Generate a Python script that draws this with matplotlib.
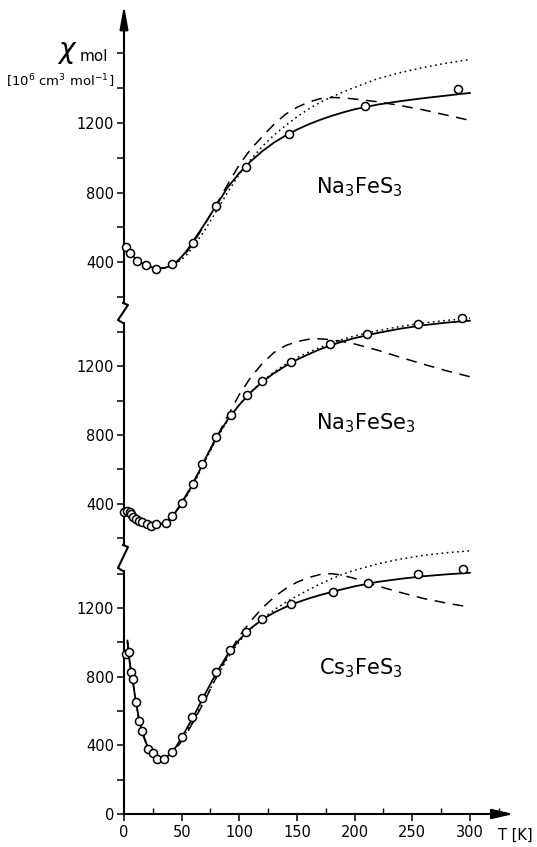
import numpy as np
import matplotlib.pyplot as plt
from matplotlib.ticker import FixedLocator
from matplotlib.lines import Line2D

# --- data (chi_mol in 10^-6 cm3/mol, T in K) ---
T_grid = [1, 5, 10, 15, 20, 25, 30, 35, 40, 45, 50, 55, 60, 70, 80, 90, 100, 110, 120,
          130, 140, 150, 160, 170, 180, 190, 200, 220, 240, 260, 280, 300]

# Na3FeS3
na_s_T = [2, 5, 11, 19, 28, 42, 60, 80, 106, 143, 209, 290]
na_s_chi = [486, 452, 406, 383, 360, 388, 509, 722, 947, 1137, 1298, 1396]
na_s_solid = [488, 455, 420, 395, 378, 368, 363, 366, 377, 398, 430, 470, 520, 620, 725,
              830, 912, 980, 1038, 1087, 1127, 1162, 1192, 1218, 1241, 1261, 1279, 1306,
              1326, 1343, 1358, 1373]
na_s_dash = [488, 455, 420, 395, 378, 368, 363, 366, 376, 395, 424, 462, 508, 615, 730,
             847, 960, 1050, 1122, 1192, 1250, 1290, 1320, 1340, 1347, 1345, 1338, 1322,
             1300, 1275, 1245, 1215]
na_s_dot = [488, 455, 420, 395, 378, 368, 363, 366, 375, 392, 414, 447, 487, 582, 692,
            802, 905, 990, 1065, 1130, 1185, 1235, 1280, 1318, 1350, 1378, 1405, 1455,
            1490, 1520, 1545, 1565]

# Na3FeSe3
na_se_T = [0, 3, 5, 6, 8, 10, 13, 16, 20, 23, 28, 36, 42, 50, 60, 68, 80, 93, 107, 120,
           145, 179, 211, 255, 293]
na_se_chi = [354, 359, 354, 342, 325, 313, 301, 296, 284, 272, 284, 292, 330, 406, 516,
             632, 788, 916, 1032, 1113, 1223, 1328, 1386, 1443, 1478]
na_se_solid = [356, 345, 315, 298, 285, 278, 280, 292, 315, 355, 405, 460, 518, 655, 785,
               890, 975, 1048, 1108, 1158, 1200, 1237, 1268, 1297, 1322, 1343, 1362, 1392,
               1417, 1437, 1452, 1463]
na_se_dash = [356, 345, 315, 298, 285, 278, 280, 292, 315, 356, 408, 465, 525, 650, 780,
              910, 1035, 1135, 1215, 1278, 1318, 1342, 1355, 1358, 1352, 1342, 1328, 1292,
              1250, 1210, 1172, 1138]
na_se_dot = [356, 345, 315, 298, 285, 278, 280, 292, 314, 352, 400, 453, 510, 645, 775,
             885, 975, 1050, 1112, 1165, 1210, 1248, 1280, 1308, 1333, 1355, 1375, 1405,
             1430, 1450, 1465, 1477]

# Cs3FeS3
cs_grid = [3, 5, 8, 10, 13, 16, 20, 25, 30, 35, 40, 45, 50, 55, 60, 70, 80, 90, 100, 110,
           120, 130, 140, 150, 160, 170, 180, 190, 200, 220, 240, 260, 280, 300]
cs_T = [2, 4, 6, 8, 10, 13, 16, 21, 25, 29, 35, 42, 50, 59, 68, 80, 92, 106, 120, 145,
        181, 212, 255, 294]
cs_chi = [930, 945, 827, 786, 652, 542, 483, 379, 355, 320, 320, 361, 449, 565, 676, 827,
          955, 1060, 1136, 1223, 1293, 1346, 1398, 1427]
cs_solid = [1010, 880, 760, 665, 555, 475, 400, 350, 325, 325, 348, 390, 445, 505, 565,
            695, 820, 930, 1015, 1082, 1133, 1173, 1205, 1232, 1255, 1275, 1293, 1310,
            1326, 1352, 1370, 1385, 1396, 1405]
cs_dash = [1000, 880, 755, 660, 548, 468, 395, 348, 327, 330, 345, 378, 425, 478, 535,
           660, 795, 925, 1035, 1125, 1200, 1262, 1312, 1350, 1377, 1395, 1400, 1390,
           1372, 1328, 1290, 1255, 1228, 1205]
cs_dot = [1000, 875, 755, 660, 550, 470, 397, 350, 328, 330, 345, 382, 432, 488, 545,
          668, 795, 910, 1005, 1078, 1138, 1188, 1232, 1270, 1305, 1340, 1370, 1397, 1420,
          1457, 1485, 1507, 1522, 1533]

W, H = 537, 847
fig = plt.figure(figsize=(W / 100, H / 100), dpi=100)
plt.rcParams['font.family'] = ['DejaVu Sans']


def fx(x):
    return x / W


def fy(y):
    return 1 - y / H


def make_panel(top, bottom, ylim, spine, major, minor):
    ax = fig.add_axes([fx(124), fy(bottom), (516 - 124) / W, (bottom - top) / H])
    ax.set_facecolor('none')
    ax.set_xlim(0, 340)
    ax.set_ylim(*ylim)
    for s in ['top', 'right', 'bottom']:
        ax.spines[s].set_visible(False)
    ax.spines['left'].set_bounds(*spine)
    ax.spines['left'].set_linewidth(1.5)
    ax.yaxis.set_major_locator(FixedLocator(major))
    ax.yaxis.set_minor_locator(FixedLocator(minor))
    ax.tick_params(axis='y', which='both', direction='out', length=5, width=1.1,
                   labelsize=10.5, pad=2)
    ax.set_xticks([])
    return ax


def draw(ax, T, solid, dash, dot, Tp, chip):
    ax.plot(T, solid, color='k', lw=1.3)
    ax.plot(T, dash, color='k', lw=1.1, dashes=(7, 5))
    ax.plot(T, dot, color='k', lw=1.1, dashes=(1.1, 2.3))
    ax.plot(Tp, chip, 'o', mfc='white', mec='k', ms=5.8, mew=1.1, zorder=5, clip_on=False)


ax1 = make_panel(5, 310, (124, 1879), (164, 1800), [400, 800, 1200], [200, 600, 1000, 1400, 1600])
ax2 = make_panel(300, 550, (133, 1583), (162, 1449), [400, 800, 1200], [200, 600, 1000, 1400])
ax3 = make_panel(540, 814, (0, 1596), (0, 1415), [0, 400, 800, 1200], [200, 600, 1000, 1400])

draw(ax1, T_grid, na_s_solid, na_s_dash, na_s_dot, na_s_T, na_s_chi)
draw(ax2, T_grid, na_se_solid, na_se_dash, na_se_dot, na_se_T, na_se_chi)
draw(ax3, cs_grid, cs_solid, cs_dash, cs_dot, cs_T, cs_chi)

# y arrow on top
ax1.annotate('', xy=(0, 1879), xytext=(0, 1780), annotation_clip=False,
             arrowprops=dict(arrowstyle='-|>,head_length=1.4,head_width=0.25', color='k',
                             lw=1.5, mutation_scale=10, shrinkA=0, shrinkB=0))

# x axis of the bottom panel
ax3.spines['bottom'].set_visible(True)
ax3.spines['bottom'].set_linewidth(1.5)
ax3.spines['bottom'].set_bounds(0, 330)
ax3.set_xticks([0, 50, 100, 150, 200, 250, 300])
ax3.set_xticks([25, 75, 125, 175, 225, 275, 325], minor=True)
ax3.tick_params(axis='x', which='major', direction='out', length=5, width=1.1,
                labelsize=10.5, pad=3)
ax3.tick_params(axis='x', which='minor', direction='in', length=4, width=1)
ax3.annotate('', xy=(338, 0), xytext=(325, 0), annotation_clip=False,
             arrowprops=dict(arrowstyle='-|>,head_length=1.3,head_width=0.3', color='k',
                             lw=1.5, mutation_scale=10, shrinkA=0, shrinkB=0))

# axis breaks
for y0 in [303, 545]:
    h = 20 if y0 == 303 else 26
    xs = [123, 128, 118, 123]
    ys = [y0, y0 + 2, y0 + h - 3, y0 + h]
    fig.add_artist(Line2D([fx(x) for x in xs], [fy(y) for y in ys],
                          transform=fig.transFigure, color='k', lw=1.5))

# labels
fig.text(fx(57), fy(52), r'$\chi$', fontsize=20, ha='left', va='center')
fig.text(fx(80), fy(61), 'mol', fontsize=11, ha='left', va='baseline')
fig.text(fx(60), fy(81), r'[10$^6$ cm$^3$ mol$^{-1}$]', fontsize=9.5, ha='center', va='center')
fig.text(fx(515), fy(835), 'T [K]', fontsize=10.5, ha='center', va='center')

fig.text(fx(359), fy(187), r'Na$_3$FeS$_3$', fontsize=15, ha='center', va='center')
fig.text(fx(366), fy(423), r'Na$_3$FeSe$_3$', fontsize=15, ha='center', va='center')
fig.text(fx(361), fy(668), r'Cs$_3$FeS$_3$', fontsize=15, ha='center', va='center')

fig.savefig('out.png', dpi=100)
